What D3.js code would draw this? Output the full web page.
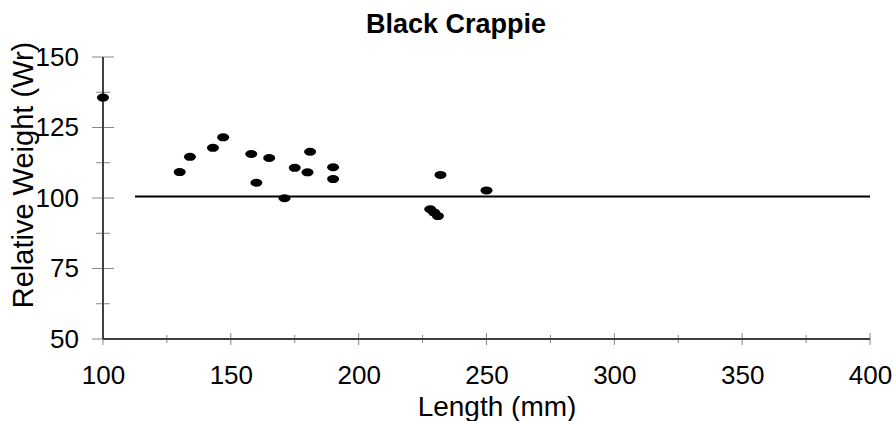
<!DOCTYPE html>
<html>
<head>
<meta charset="utf-8">
<script src="https://cdn.jsdelivr.net/npm/d3@7"></script>
<style>
  body { margin: 0; background: #fff; }
  text { font-family: "Liberation Sans", Arial, sans-serif; }
</style>
</head>
<body>
<div id="chart"></div>
<script>
// fish lengths (mm) and relative weight readings
var lengths = [100, 130, 134, 143, 147, 158, 160, 165, 171, 175, 180, 181, 190, 190, 228, 229.5, 231, 232, 250];
var weights = [135.6, 109.2, 114.6, 117.8, 121.5, 115.6, 105.4, 114.2, 99.9, 110.7, 109.1, 116.4, 110.9, 106.7, 96.0, 94.9, 93.6, 108.2, 102.7];

// standard line (Wr = 100)
var stdLineX = [112.5, 400];
var stdLineY = [100.5, 100.5];

var xTicks = [100, 150, 200, 250, 300, 350, 400];
var xMinor = [125, 175, 225, 275, 325, 375];
var yTicks = [50, 75, 100, 125, 150];
var yMinor = [62.5, 87.5, 112.5, 137.5];

var svgWidth = 893;
var svgHeight = 421;
var margin = { top: 57, right: 23, bottom: 82, left: 103 };
var width = svgWidth - margin.left - margin.right;
var height = svgHeight - margin.top - margin.bottom;

var svg = d3.select("#chart")
  .append("svg")
  .attr("width", svgWidth)
  .attr("height", svgHeight);

var chartGroup = svg.append("g")
  .attr("transform", `translate(${margin.left}, ${margin.top})`);

var xScale = d3.scaleLinear().domain([100, 400]).range([0, width]);
var yScale = d3.scaleLinear().domain([50, 150]).range([height, 0]);

// tick labels through the axes, tick marks drawn separately (they cross the axis)
var bottomAxis = d3.axisBottom(xScale).tickValues(xTicks).tickSize(0).tickPadding(27);
var leftAxis = d3.axisLeft(yScale).tickValues(yTicks).tickSize(0).tickPadding(24);

var xAxisG = chartGroup.append("g")
  .attr("transform", `translate(0, ${height})`)
  .call(bottomAxis);
var yAxisG = chartGroup.append("g").call(leftAxis);

[xAxisG, yAxisG].forEach(function(g) {
  g.select(".domain").remove();
  g.selectAll("text").style("font-size", "26px").style("fill", "#000");
});

// tick marks
chartGroup.selectAll(".xmaj").data(xTicks).enter().append("line")
  .attr("x1", d => xScale(d)).attr("x2", d => xScale(d))
  .attr("y1", height - 6).attr("y2", height + 6)
  .attr("stroke", "#888").attr("stroke-width", 1);
chartGroup.selectAll(".xmin").data(xMinor).enter().append("line")
  .attr("x1", d => xScale(d)).attr("x2", d => xScale(d))
  .attr("y1", height - 4).attr("y2", height + 4)
  .attr("stroke", "#888").attr("stroke-width", 1);
chartGroup.selectAll(".ymaj").data(yTicks).enter().append("line")
  .attr("x1", -11).attr("x2", 11)
  .attr("y1", d => yScale(d)).attr("y2", d => yScale(d))
  .attr("stroke", "#888").attr("stroke-width", 1);
chartGroup.selectAll(".ymin").data(yMinor).enter().append("line")
  .attr("x1", -7).attr("x2", 7)
  .attr("y1", d => yScale(d)).attr("y2", d => yScale(d))
  .attr("stroke", "#888").attr("stroke-width", 1);

// axis lines
chartGroup.append("line")
  .attr("x1", 0).attr("x2", width).attr("y1", height).attr("y2", height)
  .attr("stroke", "#404040").attr("stroke-width", 2);
chartGroup.append("line")
  .attr("x1", 0).attr("x2", 0).attr("y1", 0).attr("y2", height)
  .attr("stroke", "#404040").attr("stroke-width", 2);

// standard line
chartGroup.append("line")
  .attr("x1", xScale(stdLineX[0])).attr("x2", xScale(stdLineX[1]))
  .attr("y1", yScale(stdLineY[0])).attr("y2", yScale(stdLineY[1]))
  .attr("stroke", "#000").attr("stroke-width", 2);

// points
chartGroup.selectAll("ellipse")
  .data(lengths)
  .enter()
  .append("ellipse")
  .attr("cx", d => xScale(d))
  .attr("cy", (d, i) => yScale(weights[i]))
  .attr("rx", 6)
  .attr("ry", 4)
  .attr("fill", "#000");

// title and axis labels
svg.append("text")
  .attr("x", 456).attr("y", 33)
  .style("text-anchor", "middle")
  .style("font-size", "27px")
  .style("font-weight", "bold")
  .text("Black Crappie");

svg.append("text")
  .attr("x", 497).attr("y", 416)
  .style("text-anchor", "middle")
  .style("font-size", "28px")
  .text("Length (mm)");

svg.append("text")
  .attr("transform", "rotate(-90)")
  .attr("x", -175).attr("y", 33)
  .style("text-anchor", "middle")
  .style("font-size", "29px")
  .text("Relative Weight (Wr)");
</script>
</body>
</html>
